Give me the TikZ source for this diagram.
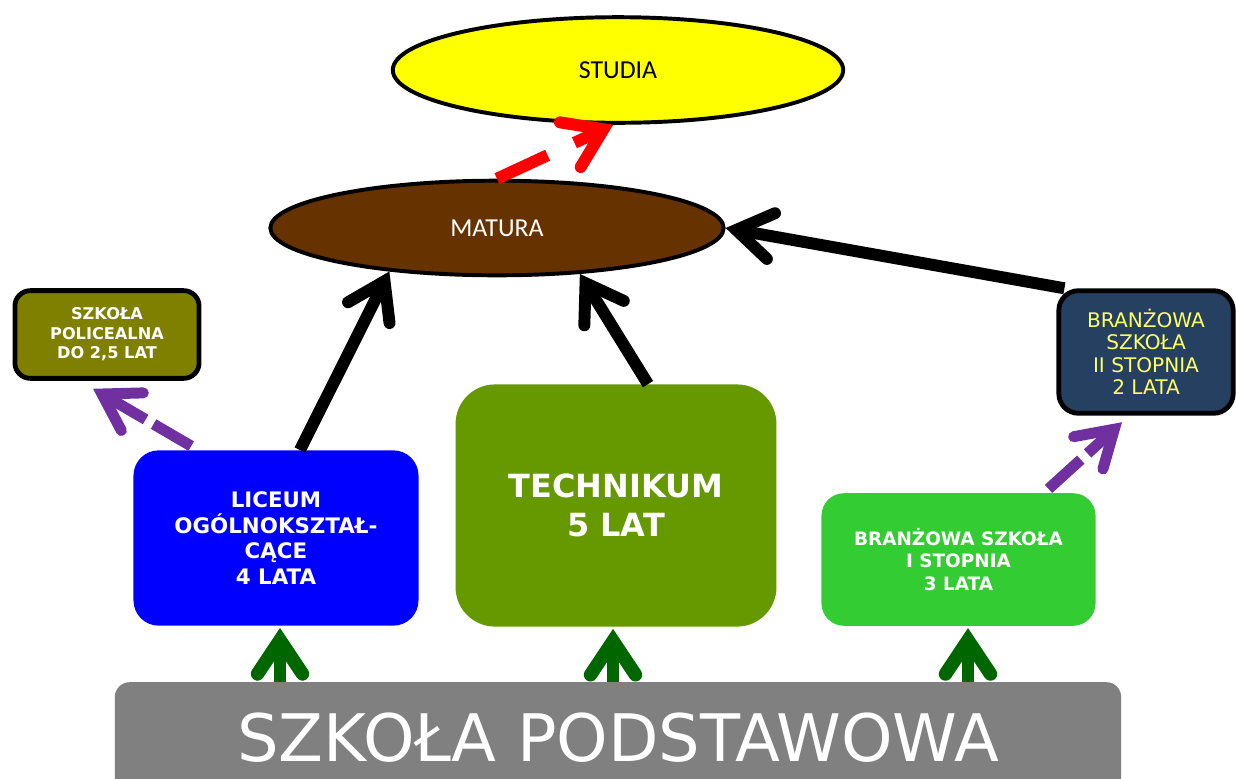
\documentclass[tikz,border=0pt]{standalone}
\usepackage{fontspec}
\setmainfont{DejaVu Sans}
\newfontfamily\calibri{Carlito}
\usetikzlibrary{shapes,arrows.meta,calc}

\definecolor{zolty}{HTML}{FFFF00}
\definecolor{braz}{HTML}{663300}
\definecolor{oliwka}{HTML}{808000}
\definecolor{nieb}{HTML}{0000FF}
\definecolor{tech}{HTML}{669900}
\definecolor{jasnozielony}{HTML}{33CC33}
\definecolor{granat}{HTML}{254061}
\definecolor{zoltytekst}{HTML}{FFFF66}
\definecolor{fiol}{HTML}{7030A0}
\definecolor{zielen}{HTML}{006600}
\definecolor{szary}{HTML}{808080}

\begin{document}
\begin{tikzpicture}[x=0.025cm,y=-0.025cm,
    owal/.style={ellipse,draw=black,line width=2.8pt,inner sep=0pt,font=\calibri\fontsize{18.4}{22}\selectfont},
    szkola/.style={rectangle,inner sep=0pt,align=center,text=white},
    strzalka/.style={line width=8.5pt,-{Straight Barb[length=25pt,width=33pt,line cap=round,line join=miter]}},
    czarna/.style={strzalka,draw=black},
    zielona/.style={line width=8.5pt,draw=zielen,-{Straight Barb[length=24pt,width=32pt,line width=9.6pt,line cap=round,line join=miter]}},
    fiolet/.style={line width=7.8pt,draw=fiol,dash pattern=on 31pt off 6.5pt,-{Straight Barb[length=25pt,width=31pt,line cap=round,line join=miter]}},
    czerwona/.style={line width=8.5pt,draw=red,dash pattern=on 39.7pt off 21pt,-{Straight Barb[length=26pt,width=35pt,line cap=round,line join=miter]}}]
  \useasboundingbox (0,0) rectangle (1236,778);

  \node[owal, fill=zolty, minimum width=320.3pt, minimum height=75.1pt] (studia) at (618,70) {STUDIA};
  \node[owal, fill=braz, text=white, minimum width=322.4pt, minimum height=67.3pt] (matura) at (497,228) {MATURA};
  \node[szkola, fill=oliwka, draw=black, line width=3.4pt, rounded corners=11pt, minimum width=131pt, minimum height=62.4pt,
        font=\bfseries\fontsize{11.5}{13.8}\selectfont] (polic) at (107,334.5) {SZKOŁA\\POLICEALNA\\DO 2,5 LAT};
  \node[szkola, fill=nieb, rounded corners=18pt, minimum width=202.7pt, minimum height=124.7pt,
        font=\bfseries\fontsize{15.2}{18.4}\selectfont] (liceum) at (276,538) {LICEUM\\OGÓLNOKSZTAŁ-\\CĄCE\\4 LATA};
  \node[szkola, fill=tech, rounded corners=28pt, minimum width=228.2pt, minimum height=172.2pt,
        font=\bfseries\fontsize{22.7}{27.6}\selectfont] (tech) at (616,505.5) {TECHNIKUM\\5 LAT};
  \node[szkola, fill=jasnozielony, rounded corners=16pt, minimum width=194.9pt, minimum height=94.3pt,
        font=\bfseries\fontsize{13.1}{16}\selectfont] (bran1) at (958.5,559.5) {BRANŻOWA SZKOŁA\\I STOPNIA\\3 LATA};
  \node[szkola, fill=granat, draw=black, line width=3.4pt, text=zoltytekst, rounded corners=14pt, minimum width=124pt, minimum height=87.2pt,
        font=\fontsize{14.3}{16}\selectfont] (bran2) at (1146,352) {BRANŻOWA\\SZKOŁA\\II STOPNIA\\2 LATA};
  \node[szkola, fill=szary, rounded corners=10.6pt, minimum width=715.7pt, minimum height=79.4pt,
        font=\fontsize{46.6}{54}\selectfont] (podst) at (618,738) {SZKOŁA PODSTAWOWA};

  % drogi do matury
  \draw[czarna] ($(liceum.north)+(24,0)$) -- (matura.202);
  \draw[czarna] ($(tech.north)+(32,0)$) -- (matura.-29);
  \draw[czarna] ($(bran2.north west)+(8,0)$) -- (matura.east);
  \draw[czerwona] (matura.north) -- (studia.265);
  \draw[fiolet] ($(liceum.north west)+(58,-4)$) -- ($(polic.south)+(-14,8)$);
  \draw[fiolet] ($(bran1.north)+(90,-4)$) -- ($(bran2.south)+(-24,6.5)$);

  % po szkole podstawowej
  \foreach \n/\dx in {liceum/4,tech/-3,bran1/9.5}{
    \coordinate (g\n) at ($(\n.south)+(\dx,2)$);
    \draw[zielona] (g\n |- podst.north) -- (g\n);
  }
\end{tikzpicture}
\end{document}
